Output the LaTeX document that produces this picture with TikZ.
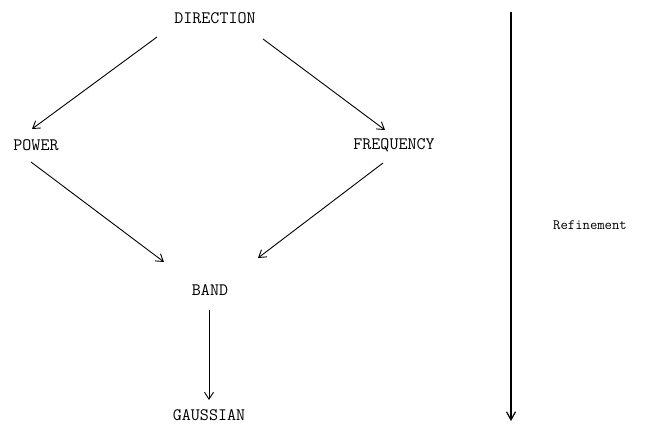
\documentclass[tikz,border=0pt]{standalone}
\usetikzlibrary{arrows.meta}
\tikzset{
  lbl/.style={font=\ttfamily\fontsize{17.5}{17.5}\selectfont, inner sep=0pt},
  sidelbl/.style={font=\ttfamily\fontsize{14.3}{14.3}\selectfont, inner sep=0pt},
  arr/.style={line width=0.9pt, -{Straight Barb[length=7pt,width=9pt,line width=0.9pt]}},
  bigarr/.style={line width=1.4pt, -{Straight Barb[length=8pt,width=9pt,line width=1.2pt]}}
}
\begin{document}
\begin{tikzpicture}[x=1pt,y=-1pt]
\useasboundingbox (0,0) rectangle (660,425);
\node[lbl] (dir) at (215,18) {DIRECTION};
\node[lbl] (pow) at (36,145) {POWER};
\node[lbl] (freq) at (394,145) {FREQUENCY};
\node[lbl] (band) at (210,290) {BAND};
\node[lbl] (gau) at (209,415) {GAUSSIAN};
\node[sidelbl] (ref) at (590,225) {Refinement};
\coordinate (rtop) at (511,12);
\coordinate (rbot) at (511,421);
\draw[arr] ([shift={(-58,19)}]dir.center) -- ([shift={(-4,-16)}]pow.center);
\draw[arr] ([shift={(48,21)}]dir.center) -- ([shift={(-9,-15)}]freq.center);
\draw[arr] ([shift={(-5,17)}]pow.center) -- ([shift={(-46,-28)}]band.center);
\draw[arr] ([shift={(-11,18)}]freq.center) -- ([shift={(48,-32)}]band.center);
\draw[arr] ([shift={(-1,20)}]band.center) -- ([shift={(0,-15)}]gau.center);
\draw[bigarr] (rtop) -- (rbot);
\end{tikzpicture}
\end{document}
